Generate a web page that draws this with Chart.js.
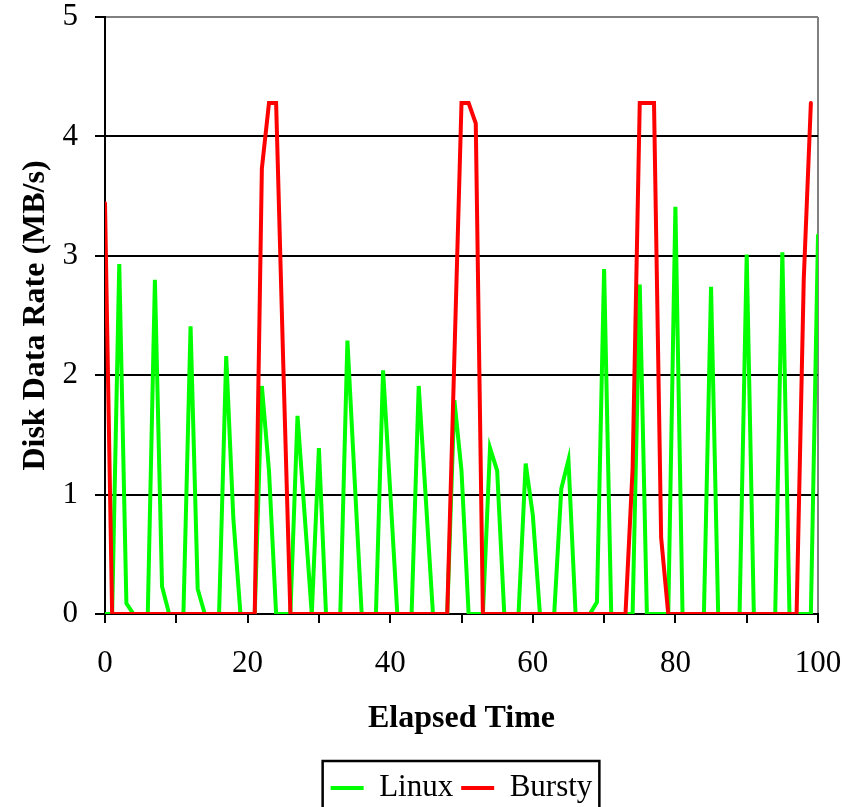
<!DOCTYPE html>
<html><head><meta charset="utf-8">
<script src="https://cdn.jsdelivr.net/npm/chart.js@4.4.1/dist/chart.umd.min.js"></script>
<style>html,body{margin:0;padding:0;background:#fff;overflow:hidden}canvas{display:block}</style>
</head><body>
<canvas id="c" width="859" height="807"></canvas>
<script>
const elapsedTime = [0,1,2,3,4,5,6,7,8,9,10,11,12,13,14,15,16,17,18,19,20,21,22,23,24,25,26,27,28,29,30,31,32,33,34,35,36,37,38,39,40,41,42,43,44,45,46,47,48,49,50,51,52,53,54,55,56,57,58,59,60,61,62,63,64,65,66,67,68,69,70,71,72,73,74,75,76,77,78,79,80,81,82,83,84,85,86,87,88,89,90,91,92,93,94,95,96,97,98,99,100];
const linuxRate = [0,0,2.93,0.09,0,0,0,2.80,0.23,0,0,0,2.41,0.21,0,0,0,2.16,0.80,0,0,0,1.91,1.20,0,0,0,1.66,0.83,0,1.39,0,0,0,2.29,1.14,0,0,0,2.04,1.03,0,0,0,1.91,0.96,0,0,0,1.79,1.20,0,0,0,1.39,1.20,0,0,0,1.26,0.83,0,0,0,1.05,1.29,0,0,0,0.10,2.89,0,0,0,0,2.76,0,0,0,0,3.41,0,0,0,0,2.74,0,0,0,0,3.01,0,0,0,0,3.03,0,0,0,0,3.17];
const burstyRate = [3.44,0,0,0,0,0,0,0,0,0,0,0,0,0,0,0,0,0,0,0,0,0,3.73,4.28,4.28,2.10,0,0,0,0,0,0,0,0,0,0,0,0,0,0,0,0,0,0,0,0,0,0,0,2.15,4.28,4.28,4.11,0,0,0,0,0,0,0,0,0,0,0,0,0,0,0,0,0,0,0,0,0,1.22,4.28,4.28,4.28,0.64,0,0,0,0,0,0,0,0,0,0,0,0,0,0,0,0,0,0,0,2.80,4.28];
const xTickLabels = [0,20,40,60,80,100];
const yTickValues = [0,1,2,3,4,5];
const seriesNames = ['Linux','Bursty'];
const seriesColors = ['#00ff00','#ff0000'];

const FONT = 'Liberation Serif, Times New Roman, serif';

const toPoints = arr => elapsedTime.map((t, i) => ({x: t, y: arr[i]}));

const legendBorder = {
  id: 'legendBorder',
  afterDraw(chart) {
    const lg = chart.legend;
    const hb = lg.legendHitBoxes;
    if (!hb || !hb.length) return;
    const ctx = chart.ctx;
    const last = hb[hb.length - 1];
    const l = hb[0].left - 8;
    const r = last.left + last.width + 7;
    const t = lg.top - 3.5;
    ctx.save();
    ctx.strokeStyle = '#000';
    ctx.lineWidth = 2.5;
    ctx.strokeRect(l, t, r - l, chart.height + 20 - t);
    ctx.restore();
  }
};

new Chart(document.getElementById('c'), {
  type: 'line',
  data: {
    datasets: [
      {label: seriesNames[0], data: toPoints(linuxRate), borderColor: seriesColors[0], backgroundColor: seriesColors[0],
       borderWidth: 4, pointRadius: 0, tension: 0, fill: false, order: 2, borderCapStyle: 'round'},
      {label: seriesNames[1], data: toPoints(burstyRate), borderColor: seriesColors[1], backgroundColor: seriesColors[1],
       borderWidth: 4, pointRadius: 0, tension: 0, fill: false, order: 1, borderCapStyle: 'round'}
    ]
  },
  options: {
    responsive: false,
    animation: false,
    devicePixelRatio: 1,
    layout: {padding: {left: 0, right: 41, top: 17, bottom: -6.5}},
    scales: {
      x: {
        type: 'linear', min: 0, max: 100,
        afterFit: s => { s.height = 150.5; s.paddingLeft = 0; s.paddingRight = 0; },
        ticks: {stepSize: 10, autoSkip: false, maxRotation: 0, color: '#000', padding: 25,
          font: {family: FONT, size: 31, lineHeight: 1},
          callback: v => xTickLabels.includes(v) ? String(v) : ''},
        grid: {color: c => (c.tick && c.tick.value === 100) ? '#808080' : 'rgba(0,0,0,0)',
          lineWidth: 2, tickColor: '#000', tickLength: 9, tickWidth: 2},
        border: {color: '#000', width: 2},
        title: {display: true, text: 'Elapsed Time', color: '#000',
          font: {family: FONT, size: 32, weight: 'bold', lineHeight: 1.2}, padding: {top: 0, bottom: 26.3}}
      },
      y: {
        min: 0, max: 5,
        afterFit: s => { s.width = 105; s.paddingTop = 0; s.paddingBottom = 0; },
        afterBuildTicks: s => { s.ticks = yTickValues.map(v => ({value: v})); },
        ticks: {stepSize: 1, color: '#000', padding: 17,
          font: {family: FONT, size: 31, lineHeight: 1}},
        grid: {color: c => (c.tick && c.tick.value === 5) ? '#808080' : '#000',
          lineWidth: 2, tickColor: '#000', tickLength: 10, tickWidth: 2},
        border: {color: '#000', width: 2},
        title: {display: true, text: 'Disk Data Rate (MB/s)', color: '#000',
          font: {family: FONT, size: 32, weight: 'bold', lineHeight: 1.2}, padding: {top: 16.8, bottom: 0}}
      }
    },
    plugins: {
      legend: {
        display: true, position: 'bottom', fullSize: false, align: 'center',
        labels: {usePointStyle: true, pointStyle: 'line', pointStyleWidth: 33, padding: 8, color: '#000',
          font: {family: FONT, size: 31},
          sort: (a, b) => a.datasetIndex - b.datasetIndex}
      },
      tooltip: {enabled: false}
    }
  },
  plugins: [legendBorder]
});
</script>
</body></html>
